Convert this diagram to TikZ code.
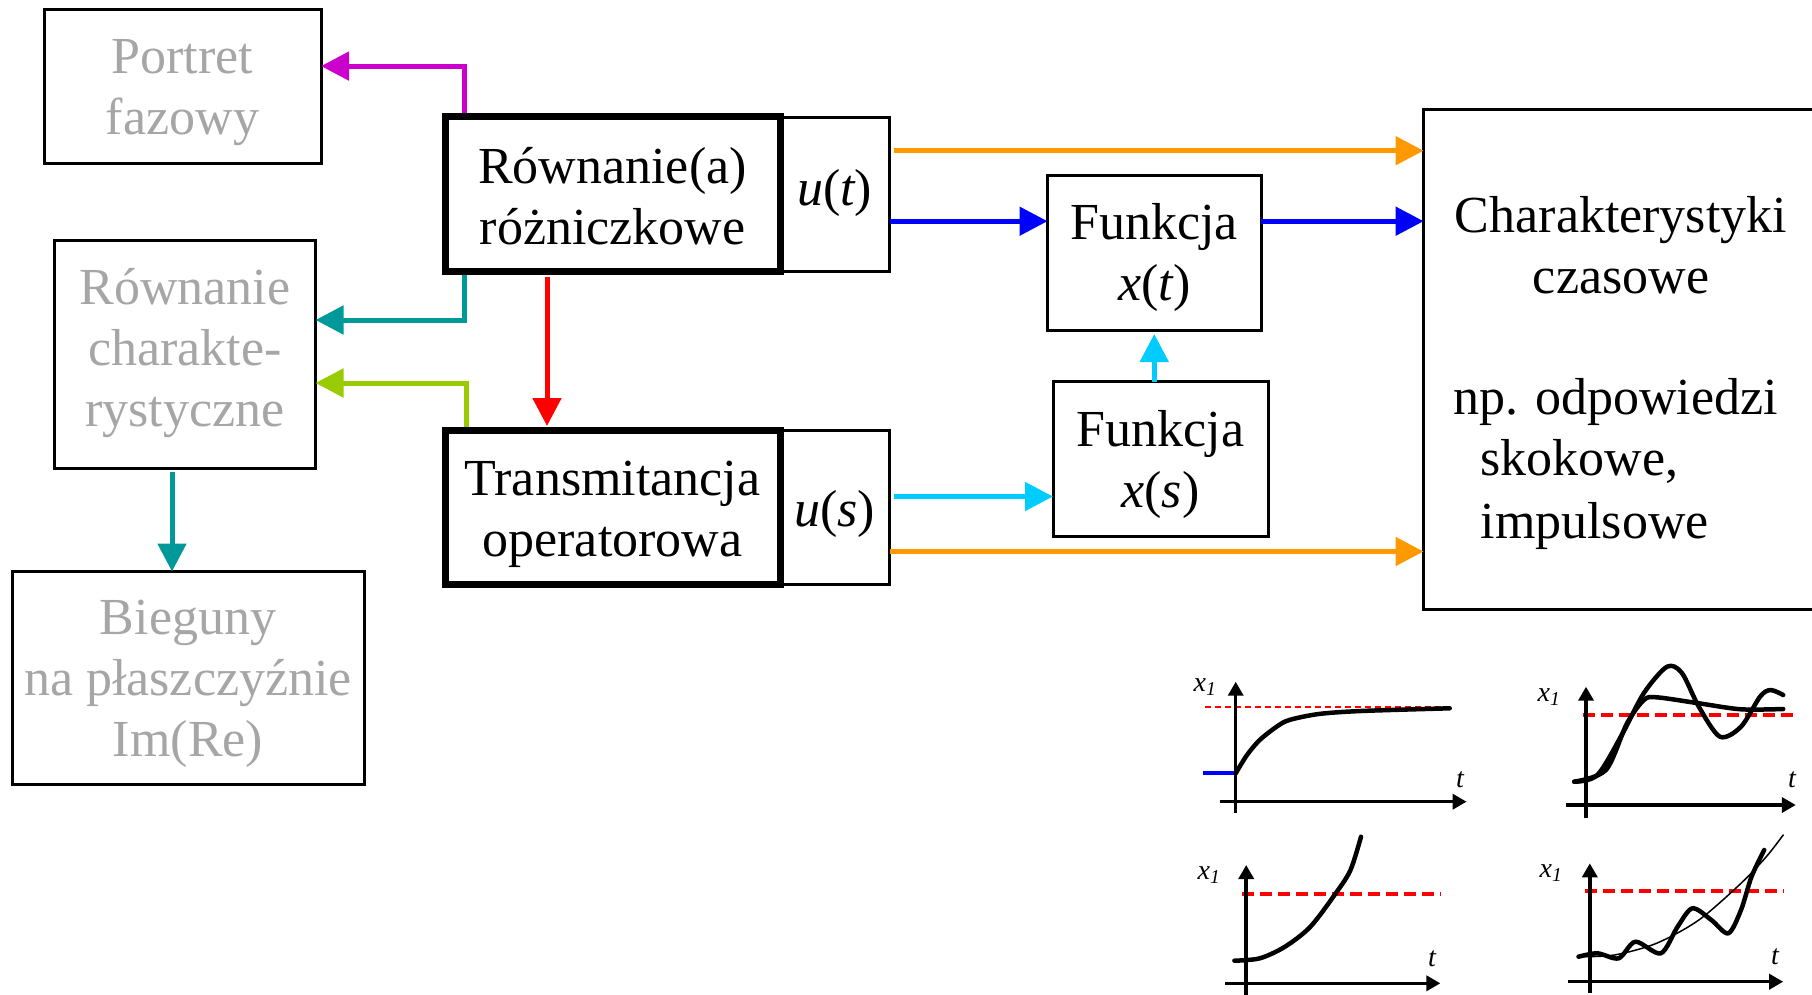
\documentclass[tikz,border=0pt]{standalone}
\usepackage{fontspec}
\setmainfont{Liberation Serif}
\usetikzlibrary{arrows.meta,calc}
\definecolor{cOrange}{RGB}{255,153,0}
\definecolor{cBlue}{RGB}{0,0,255}
\definecolor{cCyan}{RGB}{0,204,255}
\definecolor{cTeal}{RGB}{0,153,153}
\definecolor{cLime}{RGB}{153,204,0}
\definecolor{cMag}{RGB}{204,0,204}
\definecolor{cRed}{RGB}{255,0,0}
\definecolor{cGrayTxt}{RGB}{166,166,166}
\begin{document}
\begin{tikzpicture}[x=1pt,y=-1pt,
  box/.style={draw, line width=3pt, rectangle, inner sep=0pt, outer sep=0pt},
  thickbox/.style={box, line width=7pt},
  graytext/.style={text=cGrayTxt},
  plaintext/.style={inner sep=0pt, outer sep=0pt, align=center, font=\fontsize{52}{61}\selectfont},
  conn/.style={line width=5pt, -{Triangle[length=28pt,width=28pt]}},
  axis/.style={line width=3.5pt, -{Triangle[length=14pt,width=15pt]}},
  curve/.style={line width=4.5pt, line cap=round, line join=round},
  thincurve/.style={line width=1.5pt, line cap=round},
  refline/.style={draw=cRed, line width=3.5pt, dash pattern=on 12pt off 6pt},
  lbl/.style={font=\fontsize{28}{30}\selectfont\itshape, inner sep=0pt}
]
\fill[white] (0,0) rectangle (1812,995);
\useasboundingbox (0,0) rectangle (1812,995);

% boxes
\node[box, minimum width=277pt, minimum height=154pt] (pf) at (182.5,86.1) {};
\node[box, minimum width=109.5pt, minimum height=154pt] (ut) at (834.75,194.2) {};
\node[thickbox, minimum width=335pt, minimum height=155pt] (rr) at (612.5,194.2) {};
\node[box, minimum width=261pt, minimum height=228pt] (rc) at (185,354) {};
\node[box, minimum width=352pt, minimum height=213pt] (bg) at (188,678) {};
\node[box, minimum width=109.5pt, minimum height=154pt] (us) at (834.75,507) {};
\node[thickbox, minimum width=335pt, minimum height=154pt] (tr) at (612.5,507) {};
\node[box, minimum width=213.5pt, minimum height=154pt] (fx) at (1154.25,253) {};
\node[box, minimum width=215pt, minimum height=154.5pt] (fs) at (1160.5,458.75) {};
\node[inner sep=0pt, outer sep=0pt, minimum width=476.4pt, minimum height=499pt] (ch) at (1661.8,359.5) {};
\draw[line width=3pt] (ch.north east) -- (ch.north west) -- (ch.south west) -- (ch.south east);

% box texts
\node[plaintext, graytext] (pfT) at ($(pf.center)+(0,6)$) {Portret\\fazowy};
\node[plaintext] (utT) at ($(ut.center)+(0,-1)$) {\itshape u\upshape(\itshape t\upshape)};
\node[plaintext] (rrT) at ($(rr.center)+(0,1.5)$) {Równanie(a)\\różniczkowe};
\node[plaintext, graytext] (rcT) at ($(rc.center)+(0,-1)$) {Równanie\\charakte-\\rystyczne};
\node[plaintext, graytext] (bgT) at ($(bg.center)+(0,6)$) {Bieguny\\na płaszczyźnie\\Im(Re)};
\node[plaintext] (usT) at ($(us.center)+(0,7)$) {\itshape u\upshape(\itshape s\upshape)};
\node[plaintext] (trT) at ($(tr.center)+(0,7.5)$) {Transmitancja\\operatorowa};
\node[plaintext] (fxT) at ($(fx.center)+(0,4)$) {Funkcja\\\itshape x\upshape(\itshape t\upshape)};
\node[plaintext] (fsT) at ($(fs.center)+(0,5.5)$) {Funkcja\\\itshape x\upshape(\itshape s\upshape)};

\node[plaintext, anchor=base] (ch1) at (1621,233) {Charakterystyki};
\node[plaintext, anchor=base] (ch2) at (1621,293.5) {czasowe};
\node[plaintext, anchor=base west] (ch3) at (1453,414) {np. odpowiedzi};
\node[plaintext, anchor=base west] (ch4) at (1480.6,475.5) {skokowe,};
\node[plaintext, anchor=base west] (ch5) at (1480.6,538) {impulsowe};

% connectors
\coordinate (o1) at ($(ut.east)+(4,-43.5)$);
\draw[conn, cOrange] (o1) -- (o1 -| ch.west);
\coordinate (b1) at ($(ut.east)+(0,27)$);
\draw[conn, cBlue] (b1) -- (b1 -| fx.west);
\draw[conn, cBlue] (b1 -| fx.east) -- (b1 -| ch.west);
\coordinate (c1) at ($(us.east)+(4,-10.5)$);
\draw[conn, cCyan] (c1) -- (c1 -| fs.west);
\draw[conn, cCyan] (fx.south |- fs.north) -- ($(fx.south)+(0,4)$);
\coordinate (o2) at ($(us.east)+(0,44.5)$);
\draw[conn, cOrange] (o2) -- (o2 -| ch.west);

\coordinate (m1) at ($(rr.north west)+(19.5,-3.5)$);
\draw[conn, cMag] (m1) |- ($(pf.east)+(0,-20)$);
\coordinate (t1) at ($(rr.south west)+(19.5,3.5)$);
\draw[conn, cTeal] (t1) |- ($(rc.east)+(0,-34)$);
\coordinate (l1) at ($(tr.north west)+(21,-3.5)$);
\draw[conn, cLime] (l1) |- ($(rc.east)+(0,29)$);
\draw[conn, cRed] ($(rr.south west)+(102,5)$) -- ($(tr.north west)+(102,-4)$);
\coordinate (t2) at ($(rc.south)+(-13,4)$);
\draw[conn, cTeal] (t2) -- (t2 |- bg.north);

% graph 1
\draw[draw=cRed, line width=2pt, dash pattern=on 6pt off 4pt] (1204.9,706.7) -- (1449.7,706.7);
\draw[axis] (1219.6,801.7) -- (1466.6,801.7);
\draw[axis] (1235.7,813.3) -- (1235.7,681.7);
\draw[cBlue, line width=4pt] (1202.8,773.3) -- (1235.7,773.3);
\draw[curve] plot[smooth] coordinates {(1235.7,773.3) (1247,755) (1259.7,740) (1276.6,726.7) (1289.3,720) (1318.8,714) (1361,711) (1449.7,708.3)};
\node[lbl] (g1y) at (1205,687) {x\textsubscript{1}};
\node[lbl] (g1t) at (1460,780) {t};

% graph 2
\draw[refline] (1582.7,715) -- (1798,715);
\draw[axis] (1565.8,805) -- (1795.8,805);
\draw[axis] (1586,818.3) -- (1586,686.7);
\draw[curve] plot[smooth] coordinates {(1574.2,781.7) (1597.4,775) (1622.8,733) (1643.9,693) (1667,666.7) (1681.9,673) (1698.8,706.7) (1719.9,736.7) (1741,726.7) (1760,696.7) (1770.5,690) (1783.2,695)};
\draw[curve] plot[smooth] coordinates {(1574.2,781.7) (1605.9,770) (1627,723.3) (1643.9,700) (1656.6,697.3) (1698.8,703.3) (1741,709.3) (1783.2,709)};
\node[lbl] (g2y) at (1549,697) {x\textsubscript{1}};
\node[lbl] (g2t) at (1792,780) {t};

% graph 3
\draw[refline] (1242,894) -- (1441.3,894);
\draw[axis] (1225.1,983.3) -- (1440.4,983.3);
\draw[axis] (1246.2,995) -- (1246.2,865);
\draw[curve] plot[smooth] coordinates {(1234.4,960.7) (1259.8,958.3) (1285,946.7) (1310.4,926.7) (1335.7,893.3) (1350.5,870) (1361,836.7)};
\node[lbl] (g3y) at (1209,875) {x\textsubscript{1}};
\node[lbl] (g3t) at (1432,959) {t};

% graph 4
\draw[refline] (1584.8,891) -- (1783.2,891);
\draw[axis] (1567.9,981.7) -- (1783.2,981.7);
\draw[axis] (1589.8,993.3) -- (1589.8,863.3);
\draw[thincurve] plot[smooth] coordinates {(1578.5,956.7) (1614.3,955) (1656.5,943.3) (1698.8,920) (1741,883.3) (1766.3,856.7) (1783.2,835)};
\draw[curve] plot[smooth] coordinates {(1578.5,956.7) (1597.4,953.3) (1618.6,958.3) (1635.4,941.7) (1660.8,953.3) (1677.6,926.7) (1692.4,908.3) (1711.4,920) (1728.3,933.3) (1741,910) (1751.5,876.7) (1764.2,850)};
\node[lbl] (g4y) at (1551,873) {x\textsubscript{1}};
\node[lbl] (g4t) at (1775,957) {t};
\end{tikzpicture}
\end{document}
